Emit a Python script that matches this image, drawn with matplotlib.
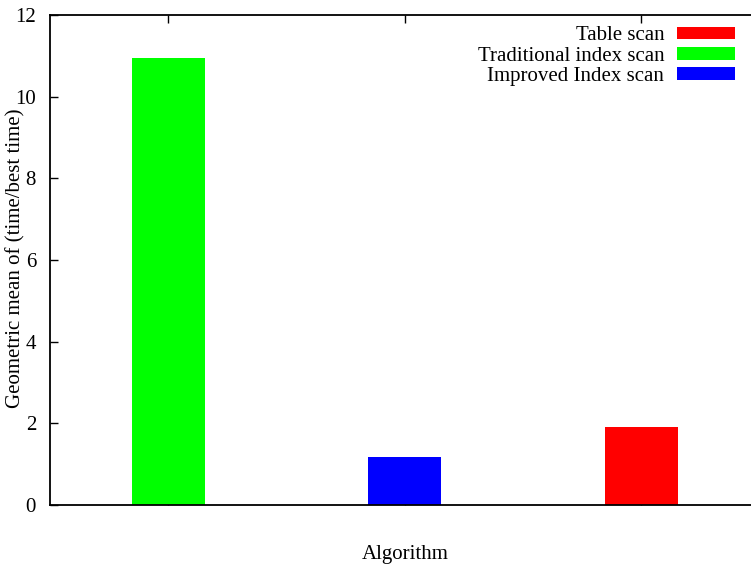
import matplotlib.pyplot as plt
from matplotlib.patches import Patch

plt.rcParams['font.family'] = ['Liberation Serif', 'DejaVu Serif']

algorithms = ['Traditional index scan', 'Improved Index scan', 'Table scan']
geo_mean = [10.95, 1.18, 1.91]
colors = ['#00ff00', '#0000ff', '#ff0000']
legend_order = ['Table scan', 'Traditional index scan', 'Improved Index scan']

fs = 15
fig = plt.figure(figsize=(7.51, 5.68), dpi=100)
ax = fig.add_axes([50 / 751, 63 / 568, 709.5 / 751, 490 / 568])

positions = list(range(1, len(algorithms) + 1))
ax.bar(positions, geo_mean, width=0.31, color=colors, linewidth=0, zorder=3)

ax.set_xlim(0.5, len(algorithms) + 0.5)
ax.set_ylim(0, 12)
ax.set_yticks(range(0, 13, 2))
ax.set_xticks(positions)
ax.set_xticklabels([])
ax.tick_params(axis='both', direction='in', length=6, width=1, labelsize=fs,
               top=True, right=True)
ax.tick_params(axis='y', pad=10)
for s in ax.spines.values():
    s.set_linewidth(1.3)
    s.set_zorder(4)

fig.text(16 / 751, 1 - 258 / 568, 'Geometric mean of (time/best time)',
         rotation=90, ha='center', va='center', fontsize=fs)
fig.text(405 / 751, 1 - 555 / 568, 'Algorithm', ha='center', va='center',
         fontsize=fs)

handles = [Patch(facecolor=colors[algorithms.index(n)], edgecolor='none', label=n)
           for n in legend_order]
ax.legend(handles=handles, loc='upper right', bbox_to_anchor=(735 / 751, 1 - 26.5 / 568),
          bbox_transform=fig.transFigure, markerfirst=False, frameon=False,
          fontsize=fs, handlelength=2.78, handleheight=0.53, labelspacing=0.06,
          handletextpad=0.62, borderaxespad=0, borderpad=0)

fig.savefig('out.png', dpi=100)
